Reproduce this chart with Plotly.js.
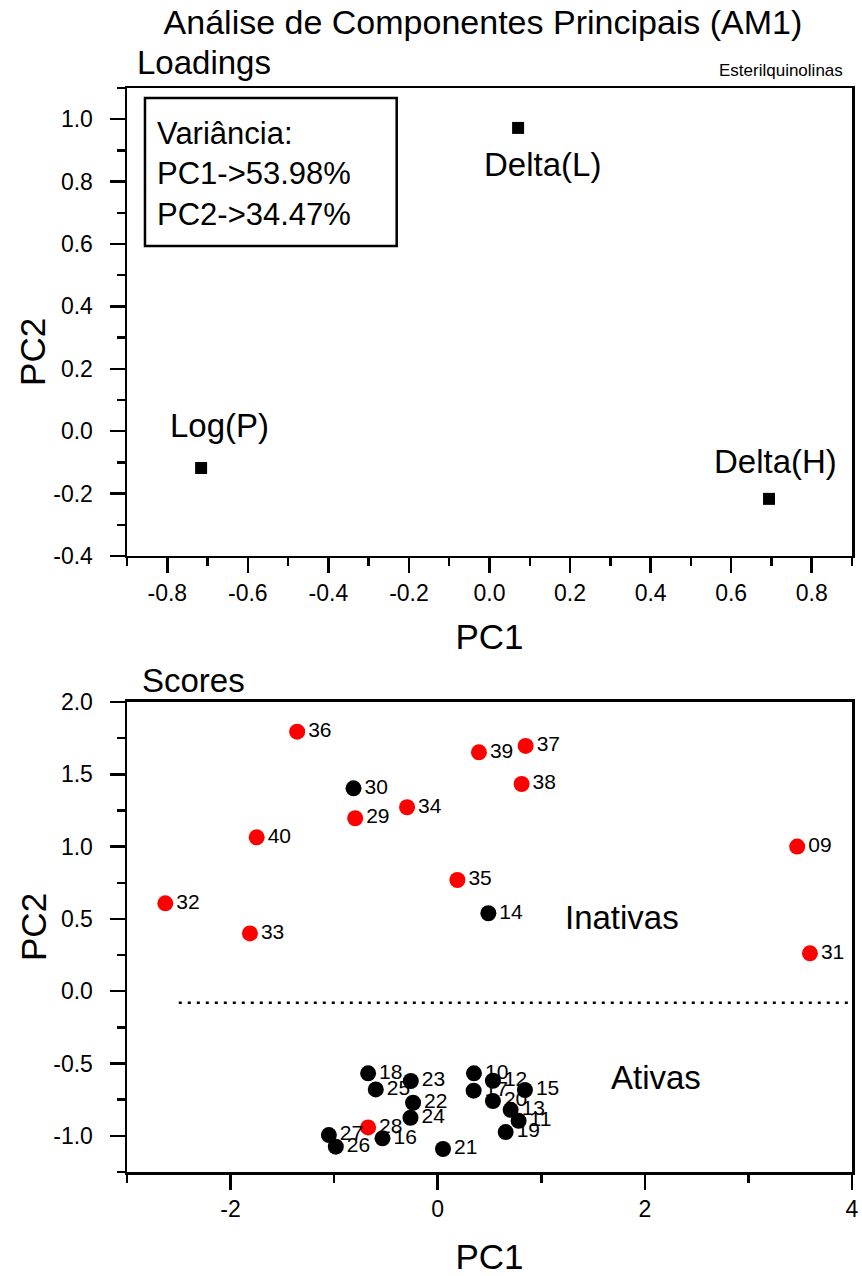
<!DOCTYPE html>
<html>
<head>
<meta charset="utf-8">
<script src="https://cdn.plot.ly/plotly-3.0.1.min.js"></script>
<style>html,body{margin:0;padding:0;background:#fff;}#chart{width:862px;height:1276px;}</style>
</head>
<body>
<div id="chart"></div>
<script>
// ---- Loadings data ----
const loadNames = ['Log(P)', 'Delta(L)', 'Delta(H)'];
const loadPC1 = [-0.716, 0.071, 0.694];
const loadPC2 = [-0.118, 0.972, -0.217];

// ---- Scores data: red (inactive compounds) ----
const redIds = ['36', '39', '37', '38', '34', '29', '40', '35', '32', '33', '09', '31', '28'];
const redPC1 = [-1.357, 0.398, 0.849, 0.810, -0.296, -0.797, -1.748, 0.190, -2.630, -1.813, 3.471, 3.594, -0.672];
const redPC2 = [1.795, 1.652, 1.696, 1.433, 1.272, 1.196, 1.064, 0.769, 0.608, 0.400, 1.000, 0.262, -0.942];

// ---- Scores data: black (active compounds) ----
const blackIds = ['30', '14', '18', '25', '23', '22', '24', '27', '26', '16', '21', '10', '17', '12', '20', '15', '13', '11', '19'];
const blackPC1 = [-0.813, 0.489, -0.672, -0.598, -0.260, -0.238, -0.263, -1.051, -0.984, -0.533, 0.051, 0.350, 0.347, 0.533, 0.533, 0.842, 0.704, 0.781, 0.656];
const blackPC2 = [1.403, 0.539, -0.568, -0.679, -0.621, -0.771, -0.875, -0.995, -1.075, -1.017, -1.091, -0.568, -0.688, -0.619, -0.759, -0.683, -0.820, -0.896, -0.974];

// ---- Separator and variance info ----
const separatorPC2 = -0.08;
const separatorPC1 = [-2.5, 4.0];
const varianceLines = ['Variância:', 'PC1->53.98%', 'PC2->34.47%'];

// ---- Tick labels ----
const topXTicks = [-0.8, -0.6, -0.4, -0.2, 0.0, 0.2, 0.4, 0.6, 0.8];
const topXLabels = ['-0.8', '-0.6', '-0.4', '-0.2', '0.0', '0.2', '0.4', '0.6', '0.8'];
const topYTicks = [-0.4, -0.2, 0.0, 0.2, 0.4, 0.6, 0.8, 1.0];
const topYLabels = ['-0.4', '-0.2', '0.0', '0.2', '0.4', '0.6', '0.8', '1.0'];
const botXTicks = [-2, 0, 2, 4];
const botXLabels = ['-2', '0', '2', '4'];
const botYTicks = [-1.0, -0.5, 0.0, 0.5, 1.0, 1.5, 2.0];
const botYLabels = ['-1.0', '-0.5', '0.0', '0.5', '1.0', '1.5', '2.0'];

const FONT = 'Liberation Sans, Arial, Helvetica, sans-serif';
const LW = 2.5;

function axisBase(extra) {
  return Object.assign({
    showline: true, linecolor: '#000', linewidth: LW, mirror: true,
    showgrid: false, zeroline: false,
    ticks: 'outside', ticklen: 15, tickwidth: LW, tickcolor: '#000',
    tickfont: {family: FONT, size: 23, color: '#000'},
    tickmode: 'array',
    fixedrange: true
  }, extra);
}

const traces = [
  {
    type: 'scatter', mode: 'markers', x: loadPC1, y: loadPC2, xaxis: 'x', yaxis: 'y',
    marker: {symbol: 'square', size: 12, color: '#000'}, hoverinfo: 'skip'
  },
  {
    type: 'scatter', mode: 'markers+text', x: redPC1, y: redPC2, text: redIds, xaxis: 'x2', yaxis: 'y2',
    textposition: 'middle right', textfont: {family: FONT, size: 21, color: '#000'},
    marker: {symbol: 'circle', size: 16, color: '#ff0000'}, hoverinfo: 'skip', cliponaxis: false
  },
  {
    type: 'scatter', mode: 'markers+text', x: blackPC1, y: blackPC2, text: blackIds, xaxis: 'x2', yaxis: 'y2',
    textposition: 'middle right', textfont: {family: FONT, size: 21, color: '#000'},
    marker: {symbol: 'circle', size: 16, color: '#000'}, hoverinfo: 'skip', cliponaxis: false
  }
];

const labelShift = [[18, 42], [24, -37], [6, 37]];
const annotations = [];
loadNames.forEach((n, i) => {
  annotations.push({
    xref: 'x', yref: 'y', x: loadPC1[i], y: loadPC2[i], text: n, showarrow: false,
    xshift: labelShift[i][0], yshift: labelShift[i][1],
    font: {family: FONT, size: 33, color: '#000'}
  });
});
annotations.push(
  {xref: 'x domain', yref: 'y domain', x: 0.038, y: 0.817, xanchor: 'left', yanchor: 'middle', align: 'left',
   text: varianceLines.join('<br>'), showarrow: false, font: {family: FONT, size: 31, color: '#000'}},
  {xref: 'paper', yref: 'paper', x: 0.011, y: 1.0231, xanchor: 'left', yanchor: 'middle', text: 'Loadings',
   showarrow: false, font: {family: FONT, size: 33, color: '#000'}},
  {xref: 'paper', yref: 'paper', x: 0.9903, y: 1.0166, xanchor: 'right', yanchor: 'middle', text: 'Esterilquinolinas',
   showarrow: false, font: {family: FONT, size: 17, color: '#000'}},
  {xref: 'paper', yref: 'paper', x: 0.018, y: 0.453, xanchor: 'left', yanchor: 'middle', text: 'Scores',
   showarrow: false, font: {family: FONT, size: 33, color: '#000'}},
  {xref: 'x2', yref: 'y2', x: 1.784, y: 0.513, text: 'Inativas', showarrow: false,
   font: {family: FONT, size: 33, color: '#000'}},
  {xref: 'x2', yref: 'y2', x: 2.112, y: -0.60, text: 'Ativas', showarrow: false,
   font: {family: FONT, size: 33, color: '#000'}},
  {xref: 'paper', yref: 'paper', x: -0.1297, y: 0.7565, textangle: -90, text: 'PC2', showarrow: false,
   xanchor: 'center', yanchor: 'middle', font: {family: FONT, size: 35, color: '#000'}},
  {xref: 'paper', yref: 'paper', x: -0.1297, y: 0.226, textangle: -90, text: 'PC2', showarrow: false,
   xanchor: 'center', yanchor: 'middle', font: {family: FONT, size: 35, color: '#000'}}
);

const shapes = [
  {type: 'rect', xref: 'x domain', yref: 'y domain', x0: 0.0248, x1: 0.372, y0: 0.6624, y1: 0.9786,
   line: {color: '#000', width: LW}, fillcolor: 'rgba(0,0,0,0)'},
  {type: 'line', xref: 'x2', yref: 'y2', x0: separatorPC1[0], x1: separatorPC1[1], y0: separatorPC2, y1: separatorPC2,
   line: {color: '#000', width: 2.5, dash: '3px,6px'}}
];

const layout = {
  width: 862, height: 1276,
  paper_bgcolor: '#fff', plot_bgcolor: '#fff',
  margin: {l: 127, r: 10, t: 88, b: 104},
  showlegend: false,
  hovermode: false,
  font: {family: FONT, color: '#000'},
  title: {text: 'Análise de Componentes Principais (AM1)', x: 0.5603, xanchor: 'center', y: 0.9828, yanchor: 'middle',
          font: {family: FONT, size: 34, color: '#000'}},
  xaxis: axisBase({domain: [0, 1], anchor: 'y', range: [-0.9, 0.9], tickvals: topXTicks, ticktext: topXLabels,
    minor: {tickvals: [-0.9, -0.7, -0.5, -0.3, -0.1, 0.1, 0.3, 0.5, 0.7, 0.9], ticklen: 8, tickwidth: LW, tickcolor: '#000', ticks: 'outside'},
    ticklabelstandoff: 0,
    title: {text: 'PC1', standoff: 20, font: {family: FONT, size: 35, color: '#000'}}}),
  yaxis: axisBase({domain: [0.5683, 1], anchor: 'x', range: [-0.4, 1.1], tickvals: topYTicks, ticktext: topYLabels,
    minor: {tickvals: [-0.3, -0.1, 0.1, 0.3, 0.5, 0.7, 0.9, 1.1], ticklen: 8, tickwidth: LW, tickcolor: '#000', ticks: 'outside'},
    ticklabelstandoff: 12}),
  xaxis2: axisBase({domain: [0, 1], anchor: 'y2', range: [-3, 4], tickvals: botXTicks, ticktext: botXLabels,
    minor: {tickvals: [-3, -1, 1, 3], ticklen: 8, tickwidth: LW, tickcolor: '#000', ticks: 'outside'},
    ticklabelstandoff: 0,
    title: {text: 'PC1', standoff: 33, font: {family: FONT, size: 35, color: '#000'}}}),
  yaxis2: axisBase({domain: [0, 0.4336], anchor: 'x2', range: [-1.25, 2.0], tickvals: botYTicks, ticktext: botYLabels,
    minor: {tickvals: [-1.25, -0.75, -0.25, 0.25, 0.75, 1.25, 1.75], ticklen: 8, tickwidth: LW, tickcolor: '#000', ticks: 'outside'},
    ticklabelstandoff: 12}),
  annotations: annotations,
  shapes: shapes
};

Plotly.newPlot('chart', traces, layout, {staticPlot: true, displayModeBar: false});
</script>
</body>
</html>
